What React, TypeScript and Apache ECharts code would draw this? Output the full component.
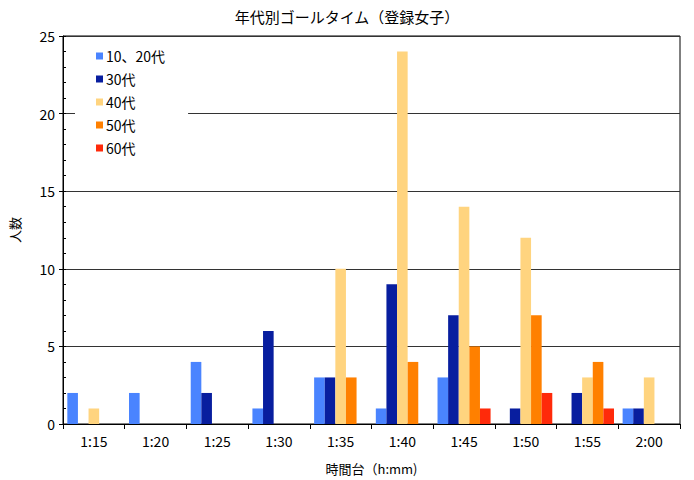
import React, { useEffect, useRef } from "react";
import * as echarts from "echarts";

const categories = ["1:15", "1:20", "1:25", "1:30", "1:35", "1:40", "1:45", "1:50", "1:55", "2:00"];
const seriesNames = ["10、20代", "30代", "40代", "50代", "60代"];
const age10_20 = [2, 2, 4, 1, 3, 1, 3, 0, 0, 1];
const age30 = [0, 0, 2, 6, 3, 9, 7, 1, 2, 1];
const age40 = [1, 0, 0, 0, 10, 24, 14, 12, 3, 3];
const age50 = [0, 0, 0, 0, 3, 4, 5, 7, 4, 0];
const age60 = [0, 0, 0, 0, 0, 0, 1, 2, 1, 0];
const colors = ["#4a84ff", "#081e9f", "#ffd47f", "#ff8000", "#ff2a0a"];

const FONT = "'Noto Sans CJK JP', 'Noto Sans', sans-serif";

export default function App() {
  const ref = useRef<HTMLDivElement>(null);
  useEffect(() => {
    document.body.style.margin = "0";
    const chart = echarts.init(ref.current!, null, { renderer: "svg" });
    const data = [age10_20, age30, age40, age50, age60];
    chart.setOption({
      animation: false,
      backgroundColor: "#fff",
      textStyle: { fontFamily: FONT, color: "#000" },
      title: {
        text: "年代別ゴールタイム（登録女子）",
        left: "center",
        top: 4,
        textStyle: { fontFamily: FONT, fontSize: 15, fontWeight: "normal", color: "#000" },
      },
      legend: {
        orient: "vertical",
        left: 75,
        top: 40,
        padding: [9, 23, 9, 21],
        backgroundColor: "#fff",
        itemWidth: 7,
        itemHeight: 7,
        itemGap: 9,
        icon: "rect",
        data: seriesNames,
        textStyle: { fontFamily: FONT, fontSize: 14, color: "#000", padding: [0, 0, 0, -2] },
      },
      grid: {
        left: 59,
        right: 14,
        top: 36,
        bottom: 56,
        show: true,
        borderColor: "#000",
        borderWidth: 1,
        backgroundColor: "transparent",
      },
      xAxis: {
        type: "category",
        data: categories,
        name: "時間台（h:mm)",
        nameLocation: "middle",
        nameGap: 38,
        nameTextStyle: { fontFamily: FONT, fontSize: 13, color: "#000" },
        axisLine: { lineStyle: { color: "#000", width: 1 } },
        axisTick: { show: true, length: 5, alignWithLabel: false, lineStyle: { color: "#000" } },
        axisLabel: { fontFamily: FONT, fontSize: 14, color: "#000", margin: 10 },
      },
      yAxis: [
        {
          type: "value",
          min: 0,
          max: 25,
          interval: 5,
          name: "人数",
          nameLocation: "middle",
          nameGap: 42,
          nameRotate: 90,
          nameTextStyle: { fontFamily: FONT, fontSize: 13, color: "#000" },
          axisLine: { show: true, lineStyle: { color: "#000", width: 1 } },
          axisTick: { show: true, length: 4, lineStyle: { color: "#000" } },
          axisLabel: { fontFamily: FONT, fontSize: 14, color: "#000", margin: 8 },
          splitLine: { show: true, lineStyle: { color: "#333", width: 1 } },
        },
        {
          type: "value",
          min: 0,
          max: 25,
          interval: 1,
          position: "left",
          offset: 0,
          axisLine: { show: false },
          axisTick: { show: true, inside: true, length: 3, lineStyle: { color: "#000" } },
          axisLabel: { show: false },
          splitLine: { show: false },
        },
      ],
      series: seriesNames.map((name, i) => ({
        name,
        type: "bar",
        data: data[i],
        barGap: "0%",
        barCategoryGap: "14%",
        itemStyle: { color: colors[i] },
        z: 1,
      })),
    });
    return () => chart.dispose();
  }, []);
  return <div ref={ref} style={{ width: 694, height: 480 }} />;
}
